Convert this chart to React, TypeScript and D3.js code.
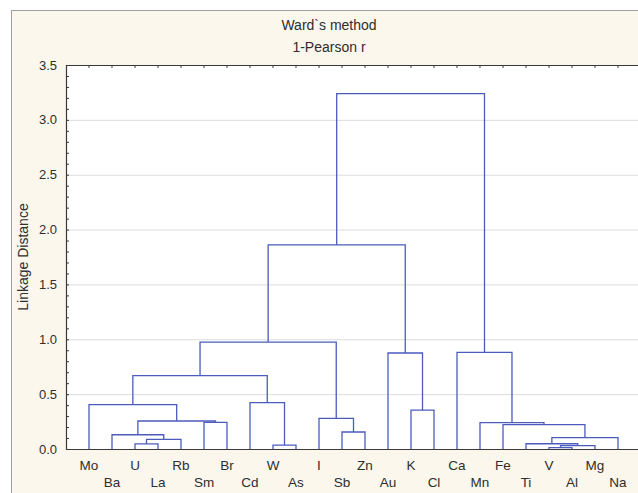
import * as d3 from 'd3';

const leaves = ['Mo', 'Ba', 'U', 'La', 'Rb', 'Sm', 'Br', 'Cd', 'W', 'As', 'I', 'Sb', 'Zn', 'Au', 'K', 'Cl', 'Ca', 'Mn', 'Fe', 'Ti', 'V', 'Al', 'Mg', 'Na'];

// children: leaf name or index of an earlier merge
const mergeChildren: [string | number, string | number][] = [
  ['U', 'La'], [0, 'Rb'], ['Ba', 1], ['Sm', 'Br'], [2, 3], ['Mo', 4],
  ['W', 'As'], ['Cd', 6], [5, 7], ['Sb', 'Zn'], ['I', 9], [8, 10],
  ['K', 'Cl'], ['Au', 12], [11, 13],
  ['V', 'Al'], [15, 'Mg'], ['Ti', 16], [17, 'Na'], ['Fe', 18], ['Mn', 19], ['Ca', 20],
  [14, 21],
];
const mergeHeights = [0.046, 0.088, 0.13, 0.243, 0.255, 0.404, 0.036, 0.422, 0.668, 0.155, 0.28, 0.975, 0.355, 0.875, 1.86, 0.012, 0.03, 0.048, 0.103, 0.223, 0.24, 0.88, 3.24];

const yTicks = [0, 0.5, 1, 1.5, 2, 2.5, 3, 3.5];

const W = 638, H = 493;
const left = 66, top = 65, bottom = 449, right = 641;
const LINE = '#4b5cbd';
const FONT = 'Arial, "Liberation Sans", sans-serif';

export default function App() {
  const x = d3.scaleLinear().domain([0, leaves.length + 1]).range([left, right]);
  const y = d3.scaleLinear().domain([0, 3.5]).range([bottom, top]);

  // resolve each merge to (x, height)
  const pos: { x: number; h: number }[] = [];
  const node = (c: string | number) =>
    typeof c === 'string' ? { x: x(leaves.indexOf(c) + 1), h: 0 } : pos[c];
  const paths: string[] = [];
  mergeChildren.forEach(([a, b], i) => {
    const A = node(a), B = node(b), h = mergeHeights[i];
    pos.push({ x: (A.x + B.x) / 2, h });
    paths.push(`M${A.x},${y(A.h)}V${y(h)}H${B.x}V${y(B.h)}`);
  });

  const minor = d3.range(0, 35).map(d => d / 10);
  const fmt = d3.format('.1f');

  return (
    <svg width={W} height={H} style={{ position: 'absolute', left: 0, top: 0 }}>
      <rect x={0} y={0} width={W} height={H} fill="#ffffff" />
      <rect x={11.5} y={10.5} width={W} height={H} fill="#fbf7ec" stroke="#a0a0a0" />
      <text x={329} y={30} textAnchor="middle" fontFamily={FONT} fontSize={14} fill="#2e2e2e">Ward`s method</text>
      <text x={329} y={52} textAnchor="middle" fontFamily={FONT} fontSize={14} fill="#2e2e2e">1-Pearson r</text>

      <rect x={left} y={top} width={right - left} height={bottom - top} fill="#fff" />
      {yTicks.slice(1, -1).map(t => (
        <line key={t} x1={left} x2={right} y1={y(t) + 0.5} y2={y(t) + 0.5} stroke="#dcdcdc" />
      ))}

      {paths.map((d, i) => (
        <path key={i} d={d} fill="none" stroke={LINE} strokeWidth={1.3} />
      ))}

      {/* frame */}
      <path d={`M${right},${top + 0.5}H${left + 0.5}V${bottom + 0.5}H${right}`} fill="none" stroke="#3a3a3a" strokeWidth={1.2} />
      {leaves.map((_, i) => (
        <line key={i} x1={x(i + 1)} x2={x(i + 1)} y1={top} y2={top + 3} stroke="#3a3a3a" />
      ))}
      {minor.map(t => (
        <line key={t} x1={left} x2={left + 3} y1={y(t) + 0.5} y2={y(t) + 0.5} stroke="#3a3a3a" />
      ))}

      {yTicks.map(t => (
        <text key={t} x={57} y={y(t) + 4.5} textAnchor="end" fontFamily={FONT} fontSize={13} fill="#2e2e2e">{fmt(t)}</text>
      ))}
      <text transform={`translate(28,${(top + bottom) / 2}) rotate(-90)`} textAnchor="middle" fontFamily={FONT} fontSize={14} fill="#2e2e2e">Linkage Distance</text>

      {leaves.map((name, i) => (
        <text key={name} x={x(i + 1)} y={i % 2 === 0 ? 470 : 487} textAnchor="middle" fontFamily={FONT} fontSize={13.5} fill="#2e2e2e">{name}</text>
      ))}
    </svg>
  );
}
